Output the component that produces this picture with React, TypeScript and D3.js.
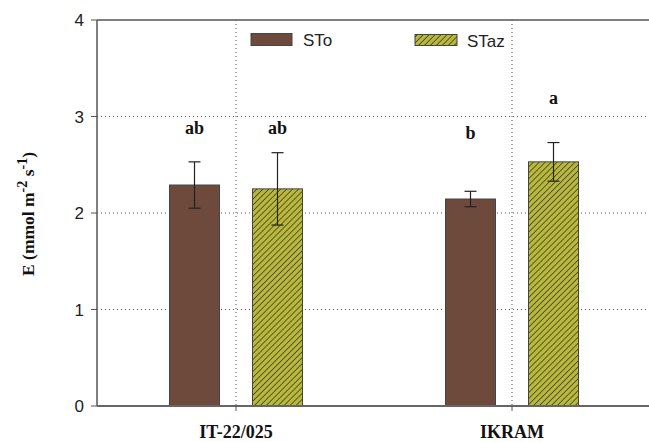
import React from "react";
import * as d3 from "d3";

const categories = ["IT-22/025", "IKRAM"];
const seriesNames = ["STo", "STaz"];
const stoValues = [2.29, 2.145];
const stazValues = [2.25, 2.53];
const stoErrors = [0.24, 0.08];
const stazErrors = [0.375, 0.2];
const stoLetters = ["ab", "b"];
const stazLetters = ["ab", "a"];
const stoLetterY = [2.82, 2.77];
const stazLetterY = [2.82, 3.13];
const yTicks = [0, 1, 2, 3, 4];

const W = 649;
const H = 442;

const BROWN = "#6d4a3b";
const OLIVE = "#b8b83c";
const SERIF = "'Liberation Serif', 'DejaVu Serif', serif";
const SANS = "'Liberation Sans', Arial, sans-serif";

export default function App() {
  const x = d3.scaleBand<string>().domain(categories).range([98, 650]).padding(0);
  const y = d3.scaleLinear().domain([0, 4]).range([406, 20]);
  const barW = 50;
  const offset = 41.5;

  const series = [
    { name: seriesNames[0], values: stoValues, errors: stoErrors, letters: stoLetters, ly: stoLetterY, dx: -offset, fill: BROWN },
    { name: seriesNames[1], values: stazValues, errors: stazErrors, letters: stazLetters, ly: stazLetterY, dx: offset, fill: "url(#hatch)" },
  ];
  const cx = (c: string) => (x(c) as number) + x.bandwidth() / 2;

  return (
    <svg width={W} height={H} style={{ position: "absolute", left: 0, top: 0, background: "#fff" }}>
      <defs>
        <pattern id="hatch" patternUnits="userSpaceOnUse" width="4.2" height="4.2" patternTransform="rotate(45)">
          <rect width="4.2" height="4.2" fill={OLIVE} />
          <line x1="0" y1="0" x2="0" y2="4.2" stroke="#3b3a1c" strokeWidth="1.5" />
        </pattern>
      </defs>
      {yTicks.filter((t) => t > 0 && t < 4).map((t) => (
        <line key={"hg" + t} x1={97} x2={W} y1={y(t)} y2={y(t)} stroke="#555" strokeWidth={1} strokeDasharray="1,3" />
      ))}
      {categories.map((c) => (
        <line key={"vg" + c} x1={cx(c)} x2={cx(c)} y1={20} y2={406} stroke="#555" strokeWidth={1} strokeDasharray="1,3" />
      ))}
      {series.map((s) =>
        categories.map((c, i) => {
          const bx = cx(c) + s.dx - barW / 2;
          return (
            <rect key={s.name + c} x={bx} y={y(s.values[i])} width={barW} height={y(0) - y(s.values[i])} fill={s.fill} stroke="#444" strokeWidth={1} />
          );
        })
      )}
      {series.map((s) =>
        categories.map((c, i) => {
          const ex = cx(c) + s.dx;
          const top = y(s.values[i] + s.errors[i]);
          const bot = y(s.values[i] - s.errors[i]);
          return (
            <g key={"e" + s.name + c} stroke="#222" strokeWidth={1.2}>
              <line x1={ex} x2={ex} y1={top} y2={bot} />
              <line x1={ex - 6} x2={ex + 6} y1={top} y2={top} />
              <line x1={ex - 6} x2={ex + 6} y1={bot} y2={bot} />
            </g>
          );
        })
      )}
      {series.map((s) =>
        categories.map((c, i) => (
          <text key={"l" + s.name + c} x={cx(c) + s.dx} y={y(s.ly[i])} textAnchor="middle" fontFamily={SERIF} fontWeight="bold" fontSize={18} fill="#111">
            {s.letters[i]}
          </text>
        ))
      )}
      <line x1={97} x2={W} y1={20} y2={20} stroke="#555" strokeWidth={1.5} />
      <line x1={97} x2={97} y1={20} y2={406} stroke="#555" strokeWidth={1.5} />
      <line x1={97} x2={W} y1={406} y2={406} stroke="#666" strokeWidth={2} />
      {yTicks.map((t) => (
        <g key={"yt" + t}>
          <line x1={91} x2={97} y1={y(t)} y2={y(t)} stroke="#555" strokeWidth={1} />
          <text x={84} y={y(t) + 6} textAnchor="end" fontFamily={SANS} fontSize={17} fill="#222">
            {t}
          </text>
        </g>
      ))}
      {categories.map((c) => (
        <g key={"xt" + c}>
          <line x1={cx(c)} x2={cx(c)} y1={406} y2={411} stroke="#555" strokeWidth={1} />
          <text x={cx(c)} y={438} textAnchor="middle" fontFamily={SERIF} fontWeight="bold" fontSize={18} fill="#111">
            {c}
          </text>
        </g>
      ))}
      <text transform="translate(34,214) rotate(-90)" textAnchor="middle" fontFamily={SERIF} fontWeight="bold" fontSize={17.5} fill="#111">
        E (mmol m
        <tspan dy={-7} fontSize={14}>-2</tspan>
        <tspan dy={7}> s</tspan>
        <tspan dy={-7} fontSize={14}>-1</tspan>
        <tspan dy={7}>)</tspan>
      </text>
      <rect x={251} y={33.5} width={41} height={12} fill={BROWN} stroke="#444" strokeWidth={1} />
      <text x={303} y={46} fontFamily={SANS} fontSize={17} fill="#222">{seriesNames[0]}</text>
      <rect x={415} y={34.5} width={42} height={11} fill="url(#hatch)" stroke="#444" strokeWidth={1} />
      <text x={467} y={47} fontFamily={SANS} fontSize={17} fill="#222">{seriesNames[1]}</text>
    </svg>
  );
}
